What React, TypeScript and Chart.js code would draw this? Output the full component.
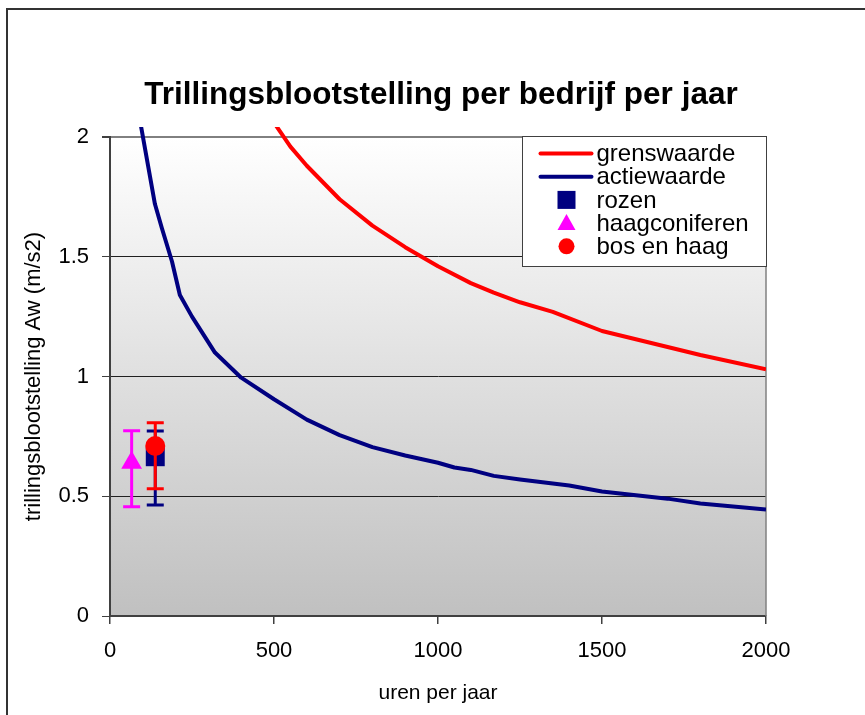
import React, { useEffect, useRef } from 'react';
import { Chart, registerables } from 'chart.js';

Chart.register(...registerables);

const TITLE = 'Trillingsblootstelling per bedrijf per jaar';
const X_TITLE = 'uren per jaar';
const Y_TITLE = 'trillingsblootstelling Aw (m/s2)';

const xTicks = [0, 500, 1000, 1500, 2000];
const yTicks = [0, 0.5, 1, 1.5, 2];

const grensHours = [500, 550, 600, 700, 800, 900, 1000, 1100, 1170, 1250, 1350, 1500, 1650, 1800, 2000];
const grensValues = [2.06, 1.96, 1.88, 1.74, 1.63, 1.54, 1.46, 1.39, 1.35, 1.31, 1.27, 1.19, 1.14, 1.09, 1.03];

const actieHours = [90, 137, 158, 189, 213, 250, 320, 400, 500, 600, 700, 800, 900, 1000, 1050, 1100, 1170, 1250, 1400, 1500, 1700, 1800, 2000];
const actieValues = [2.08, 1.72, 1.62, 1.48, 1.34, 1.25, 1.1, 0.995, 0.905, 0.82, 0.755, 0.705, 0.67, 0.64, 0.62, 0.61, 0.585, 0.57, 0.545, 0.52, 0.49, 0.47, 0.445];

const rozenHours = [138];
const rozenValues = [0.665];
const rozenLow = [0.463];
const rozenHigh = [0.772];

const haagHours = [66];
const haagValues = [0.64];
const haagLow = [0.456];
const haagHigh = [0.774];

const bosHours = [138];
const bosValues = [0.71];
const bosLow = [0.531];
const bosHigh = [0.807];

const names = ['grenswaarde', 'actiewaarde', 'rozen', 'haagconiferen', 'bos en haag'];
const colors = ['#FF0000', '#000080', '#000080', '#FF00FF', '#FF0000'];

const FONT = '"Liberation Sans", Arial, sans-serif';

const pts = (xs: number[], ys: number[]) => xs.map((x, i) => ({ x, y: ys[i] }));

const bgPlugin = {
  id: 'bgPlugin',
  beforeDraw(chart: any) {
    const { ctx, chartArea: a } = chart;
    ctx.save();
    const g = ctx.createLinearGradient(0, a.top, 0, a.bottom);
    g.addColorStop(0, '#FFFFFF');
    g.addColorStop(1, '#C0C0C0');
    ctx.fillStyle = g;
    ctx.fillRect(a.left, a.top, a.right - a.left, a.bottom - a.top);
    ctx.restore();
  },
  beforeDatasetsDraw(chart: any) {
    const { ctx, chartArea: a } = chart;
    ctx.save();
    ctx.strokeStyle = '#808080';
    ctx.lineWidth = 1.5;
    ctx.beginPath();
    ctx.moveTo(a.right, a.top);
    ctx.lineTo(a.right, a.bottom);
    ctx.stroke();
    ctx.restore();
  },
};

const errorBarPlugin = {
  id: 'errorBarPlugin',
  beforeDatasetDraw(chart: any, args: any) {
    const ds = chart.data.datasets[args.index];
    if (!ds.errLow) return;
    const { ctx } = chart;
    const xs = chart.scales.x;
    const ys = chart.scales.y;
    ctx.save();
    ctx.strokeStyle = ds.errColor;
    ctx.lineWidth = 3;
    ds.data.forEach((p: any, i: number) => {
      const px = xs.getPixelForValue(p.x);
      const yl = ys.getPixelForValue(ds.errLow[i]);
      const yh = ys.getPixelForValue(ds.errHigh[i]);
      ctx.beginPath();
      ctx.moveTo(px, yl);
      ctx.lineTo(px, yh);
      ctx.moveTo(px - 8.5, yl);
      ctx.lineTo(px + 8.5, yl);
      ctx.moveTo(px - 8.5, yh);
      ctx.lineTo(px + 8.5, yh);
      ctx.stroke();
    });
    ctx.restore();
  },
};

const overlayPlugin = {
  id: 'overlayPlugin',
  afterDraw(chart: any) {
    const { ctx, chartArea: a } = chart;
    ctx.save();
    // title
    ctx.fillStyle = '#000';
    ctx.font = 'bold 31.5px ' + FONT;
    ctx.textAlign = 'center';
    ctx.textBaseline = 'middle';
    ctx.fillText(TITLE, 441, 95);

    // legend
    const lw = 244, lh = 130;
    const lx = a.right - lw + 0.5, ly = a.top - 0.5;
    ctx.fillStyle = '#FFFFFF';
    ctx.fillRect(lx, ly, lw, lh);
    ctx.strokeStyle = '#404040';
    ctx.lineWidth = 1;
    ctx.strokeRect(lx, ly, lw, lh);
    const rowY = (i: number) => ly + 17 + i * 23.2;
    const symX = lx + 44;
    ctx.font = '24px ' + FONT;
    ctx.textAlign = 'left';
    ctx.textBaseline = 'middle';
    names.forEach((n, i) => {
      const y = rowY(i);
      ctx.fillStyle = colors[i];
      ctx.strokeStyle = colors[i];
      if (i < 2) {
        ctx.lineWidth = 4;
        ctx.lineCap = 'round';
        ctx.beginPath();
        ctx.moveTo(lx + 18, y);
        ctx.lineTo(lx + 69, y);
        ctx.stroke();
      } else if (i === 2) {
        ctx.fillRect(symX - 9, y - 9, 18, 18);
      } else if (i === 3) {
        ctx.beginPath();
        ctx.moveTo(symX, y - 9);
        ctx.lineTo(symX + 9, y + 7);
        ctx.lineTo(symX - 9, y + 7);
        ctx.closePath();
        ctx.fill();
      } else {
        ctx.beginPath();
        ctx.arc(symX, y, 8, 0, Math.PI * 2);
        ctx.fill();
      }
      ctx.fillStyle = '#000';
      ctx.fillText(n, lx + 74, y + 1);
    });

    // outer frame
    ctx.strokeStyle = '#333333';
    ctx.lineWidth = 2;
    ctx.strokeRect(7, 9, 1000, 1000);
    ctx.restore();
  },
};

export default function App() {
  const ref = useRef<HTMLCanvasElement | null>(null);
  useEffect(() => {
    if (!ref.current) return;
    const chart = new Chart(ref.current, {
      type: 'scatter',
      data: {
        datasets: [
          {
            label: names[0],
            order: 4,
            data: pts(grensHours, grensValues),
            showLine: true,
            borderColor: colors[0],
            borderWidth: 4,
            pointRadius: 0,
            tension: 0,
            borderJoinStyle: 'round',
            clip: { left: 0, top: 10, right: 0, bottom: 0 },
          } as any,
          {
            label: names[1],
            order: 3,
            data: pts(actieHours, actieValues),
            showLine: true,
            borderColor: colors[1],
            borderWidth: 4,
            pointRadius: 0,
            tension: 0,
            borderJoinStyle: 'round',
            clip: { left: 0, top: 10, right: 0, bottom: 0 },
          } as any,
          {
            label: names[2],
            order: 2,
            data: pts(rozenHours, rozenValues),
            errLow: rozenLow,
            errHigh: rozenHigh,
            errColor: colors[2],
            pointStyle: 'rect',
            pointRadius: 13.4,
            backgroundColor: colors[2],
            borderColor: colors[2],
            borderWidth: 0,
            clip: false,
          } as any,
          {
            label: names[3],
            order: 1,
            data: pts(haagHours, haagValues),
            errLow: haagLow,
            errHigh: haagHigh,
            errColor: colors[3],
            pointStyle: 'triangle',
            pointRadius: 12,
            backgroundColor: colors[3],
            borderColor: colors[3],
            borderWidth: 0,
            clip: false,
          } as any,
          {
            label: names[4],
            order: 0,
            data: pts(bosHours, bosValues),
            errLow: bosLow,
            errHigh: bosHigh,
            errColor: colors[4],
            pointStyle: 'circle',
            pointRadius: 10,
            backgroundColor: colors[4],
            borderColor: colors[4],
            borderWidth: 0,
            clip: false,
          } as any,
        ],
      },
      options: {
        animation: false,
        responsive: false,
        devicePixelRatio: 1,
        events: [],
        layout: { padding: { top: 137, right: 99, bottom: 0, left: 0 } },
        plugins: {
          legend: { display: false },
          title: { display: false },
          tooltip: { enabled: false },
        },
        scales: {
          x: {
            type: 'linear',
            min: 0,
            max: 2000,
            afterFit: (s: any) => { s.height = 99; },
            afterBuildTicks: (s: any) => { s.ticks = xTicks.map((v) => ({ value: v })); },
            ticks: {
              autoSkip: false,
              maxRotation: 0,
              padding: 14,
              color: '#000',
              font: { family: FONT, size: 22 },
              callback: (v: any) => String(v),
            },
            grid: {
              drawOnChartArea: false,
              drawTicks: true,
              tickLength: 8,
              tickColor: '#404040',
              lineWidth: 1.5,
            },
            border: { display: true, color: '#404040', width: 2 },
            title: {
              display: true,
              text: X_TITLE,
              color: '#000',
              font: { family: FONT, size: 21 },
              padding: { top: 0, bottom: 9 },
            },
          },
          y: {
            type: 'linear',
            min: 0,
            max: 2,
            afterFit: (s: any) => { s.width = 110; },
            afterBuildTicks: (s: any) => { s.ticks = yTicks.map((v) => ({ value: v })); },
            ticks: {
              padding: 13,
              color: '#000',
              font: { family: FONT, size: 22 },
              callback: (v: any) => String(v),
            },
            grid: {
              color: (c: any) => (c.tick && c.tick.value === 2 ? '#808080' : '#202020'),
              lineWidth: (c: any) => (c.tick && c.tick.value === 2 ? 2 : 1),
              drawTicks: true,
              tickLength: 8,
              tickColor: '#404040',
            },
            border: { display: true, color: '#404040', width: 2 },
            title: {
              display: true,
              text: Y_TITLE,
              color: '#000',
              font: { family: FONT, size: 22 },
              padding: { top: 21, bottom: 0 },
            },
          },
        },
      } as any,
      plugins: [bgPlugin, errorBarPlugin, overlayPlugin],
    });
    return () => chart.destroy();
  }, []);

  return (
    <div style={{ position: 'absolute', left: 0, top: 0, width: 865, height: 715, background: '#fff' }}>
      <canvas ref={ref} width={865} height={715} style={{ display: 'block', width: 865, height: 715 }} />
    </div>
  );
}
